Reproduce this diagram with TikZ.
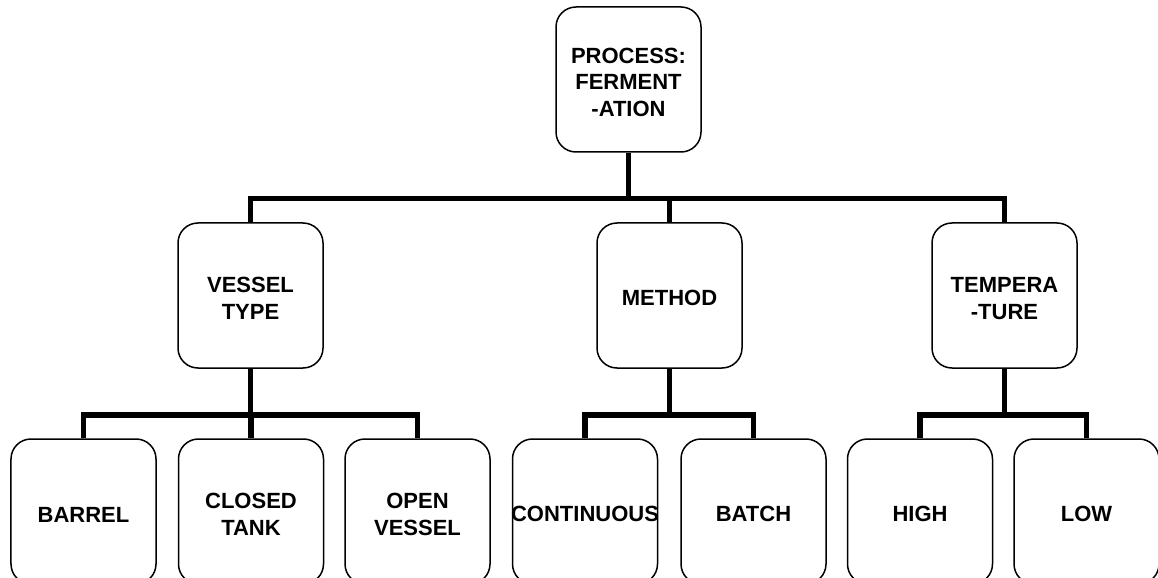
\documentclass[tikz,border=0pt]{standalone}
\usepackage{fontspec}
\setmainfont{Liberation Sans}
% invisible strut that sets the height of a node's first line
\newcommand{\topstrut}{\rule{0pt}{21bp}}
\begin{document}
\begin{tikzpicture}[x=1bp,y=-1bp,
  box/.style={draw=black, line width=1.5bp, fill=white, rounded corners=20bp,
    minimum width=145bp, minimum height=145bp, inner sep=0pt, align=center,
    font=\fontsize{22bp}{26.5bp}\selectfont\bfseries},
  conn/.style={draw=black, line width=5.5bp, line join=miter}]
\useasboundingbox (0,0) rectangle (1158,578);
% levels of the tree
\node[box] (root) at (628.5,79.5) {\topstrut PROCESS:\\FERMENT\\-ATION};
\node[box] (vessel) at (250.5,295.5) {\topstrut VESSEL\\TYPE};
\node[box] (method) at (669.5,295.5) {\topstrut METHOD};
\node[box] (temp) at (1004.5,295.5) {\topstrut TEMPERA\\-TURE};
\node[box] (barrel) at (83.5,511.5) {\topstrut BARREL};
\node[box] (closed) at (251,511.5) {\topstrut CLOSED\\TANK};
\node[box] (open) at (417.5,511.5) {\topstrut OPEN\\VESSEL};
\node[box] (cont) at (585,511.5) {\topstrut\makebox[0pt]{CONTINUOUS}};
\node[box] (batch) at (753.5,511.5) {\topstrut BATCH};
\node[box] (high) at (920,511.5) {\topstrut HIGH};
\node[box] (low) at (1086.5,511.5) {\topstrut LOW};
% bus heights
\coordinate (bA) at (0,198.5);
\coordinate (bB) at (0,415);
% root to second level
\draw[conn] (root.south) -- (root.south |- bA);
\draw[conn] (vessel.north) |- (root.south |- bA) -| (temp.north);
\draw[conn] (method.north) -- (method.north |- bA);
% vessel type children
\draw[conn] (vessel.south) -- (vessel.south |- bB);
\draw[conn] (barrel.north) |- (vessel.south |- bB) -| (open.north);
\draw[conn] (closed.north) -- (closed.north |- bB);
% method children
\draw[conn] (method.south) -- (method.south |- bB);
\draw[conn] (cont.north) |- (method.south |- bB) -| (batch.north);
% temperature children
\draw[conn] (temp.south) -- (temp.south |- bB);
\draw[conn] (high.north) |- (temp.south |- bB) -| (low.north);
\end{tikzpicture}
\end{document}
